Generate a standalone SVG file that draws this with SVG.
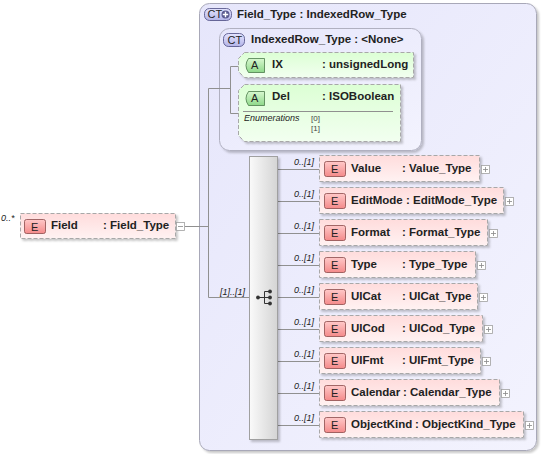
<svg xmlns="http://www.w3.org/2000/svg" width="541" height="454" viewBox="0 0 541 454">
<defs>
<linearGradient id="gCT" x1="0" y1="0" x2="1" y2="1"><stop offset="0" stop-color="#e6e6fb"/><stop offset="1" stop-color="#f3f3fe"/></linearGradient>
<linearGradient id="gEl" x1="0" y1="0" x2="0" y2="1"><stop offset="0" stop-color="#ffdcdc"/><stop offset="1" stop-color="#fff2f2"/></linearGradient>
<linearGradient id="gAt" x1="0" y1="0" x2="0" y2="1"><stop offset="0" stop-color="#dcffd4"/><stop offset="1" stop-color="#f2fff0"/></linearGradient>
<linearGradient id="gEb" x1="0" y1="0" x2="0" y2="1"><stop offset="0" stop-color="#ffc8c8"/><stop offset="1" stop-color="#f48a8a"/></linearGradient>
<linearGradient id="gAb" x1="0" y1="0" x2="0" y2="1"><stop offset="0" stop-color="#d8f8d0"/><stop offset="1" stop-color="#8ed88a"/></linearGradient>
<linearGradient id="gCb" x1="0" y1="0" x2="0" y2="1"><stop offset="0" stop-color="#e4e4ff"/><stop offset="1" stop-color="#b4b4e8"/></linearGradient>
<linearGradient id="gSeq" x1="0" y1="0" x2="1" y2="0"><stop offset="0" stop-color="#fafafa"/><stop offset="1" stop-color="#d4d4d4"/></linearGradient>
<filter id="sh" x="-10%" y="-10%" width="130%" height="140%"><feDropShadow dx="2" dy="2" stdDeviation="1.2" flood-color="#000" flood-opacity="0.22"/></filter>
</defs>
<style>
.t{font-family:"Liberation Sans",Arial,sans-serif;font-size:11.5px;font-weight:bold;fill:#222}
.b{font-family:"Liberation Sans",Arial,sans-serif;font-size:11px;fill:#222}
.m{font-family:"Liberation Sans",Arial,sans-serif;font-size:9px;font-style:italic;fill:#222}
.s{font-family:"Liberation Sans",Arial,sans-serif;font-size:8px;fill:#444}
.el{fill:url(#gEl);stroke:#a8a8a8;stroke-dasharray:4,2;filter:url(#sh)}
.at{fill:url(#gAt);stroke:#a8a8a8;stroke-dasharray:4,2;filter:url(#sh)}
.eb{fill:url(#gEb);stroke:#8a4a4a;stroke-width:0.8}
.ab{fill:url(#gAb);stroke:#4a7a4a;stroke-width:0.8}
.cb{fill:url(#gCb);stroke:#4a4a80;stroke-width:0.8}
.pl{fill:#fff;stroke:#a0a0a0;stroke-width:0.8}
.pk{stroke:#888;stroke-width:0.8;fill:none}
.ln{stroke:#909090;stroke-width:1;fill:none}
</style>

<g id="ct-field-type">
<rect x="199.5" y="3.5" width="337" height="447" rx="10" fill="url(#gCT)" stroke="#a8a8b8" filter="url(#sh)"/>
<rect x="204.5" y="8.5" width="27" height="12" rx="5" class="cb"/>
<text x="207.5" y="18" class="b" font-size="10">CT</text>
<circle cx="225.5" cy="14.5" r="4" fill="#5a5a90"/>
<path d="M222.8 14.5h5.4M225.5 11.8v5.4" stroke="#fff" stroke-width="1.4"/>
<text x="237" y="18" class="t">Field_Type : IndexedRow_Type</text>
</g>

<g id="ct-indexedrow-type">
<rect x="219.5" y="28.5" width="202" height="122" rx="10" fill="url(#gCT)" stroke="#b0b0c0" filter="url(#sh)"/>
<rect x="223.5" y="33.5" width="21" height="13" rx="5" class="cb"/>
<text x="227.5" y="44" class="b" font-size="10">CT</text>
<text x="251" y="43" class="t">IndexedRow_Type : &lt;None&gt;</text>
</g>

<g id="connectors">
<path class="ln" d="M185 226.5H208.5M208.5 88.5V297.5M208.5 88.5H230.5M230.5 66.5V113.5M230.5 66.5H243M230.5 113.5H238M208.5 297.5H249"/>
<path class="ln" d="M278 169.5H319M278 201.5H319M278 233.5H319M278 265.5H319M278 297.5H319M278 329.5H319M278 361.5H319M278 393.5H319M278 425.5H319"/>
<text x="220" y="295" class="m">[1]..[1]</text>
</g>

<g id="attr-ix">
<path class="at" d="M244.5 52.5H413.5V77.5H244.5L238.5 71.5V58.5Z"/>
<path class="ab" d="M248.5 58.5H264.5V72.5H248.5Q243.5 65.5 248.5 58.5Z"/>
<text x="251" y="69" class="b" font-size="10">A</text>
<text x="272" y="68" class="t">IX</text>
<text x="322" y="68" class="t">: unsignedLong</text>
</g>

<g id="attr-del">
<path class="at" d="M244.5 84.5H400.5V141.5H244.5L238.5 135.5V90.5Z"/>
<path class="ab" d="M248.5 91.5H264.5V105.5H248.5Q243.5 98.5 248.5 91.5Z"/>
<text x="251" y="102" class="b" font-size="10">A</text>
<text x="272" y="100" class="t">Del</text>
<text x="322" y="100" class="t">: ISOBoolean</text>
<line x1="243" y1="111.5" x2="393" y2="111.5" stroke="#909090"/>
<text x="244" y="121" class="m" font-size="8">Enumerations</text>
<text x="311" y="121" class="s">[0]</text>
<text x="311" y="131" class="s">[1]</text>
</g>

<g id="el-field">
<text x="1" y="221" class="m">0..*</text>
<rect x="20.5" y="213.5" width="155" height="25" class="el"/>
<rect x="24.5" y="219.5" width="21" height="14" rx="2" class="eb"/>
<text x="31" y="230.5" class="b" font-size="10">E</text>
<text x="51" y="229" class="t">Field</text>
<text x="103" y="229" class="t">: Field_Type</text>
<rect x="176.5" y="222.5" width="8" height="8" class="pl"/>
<path class="pk" d="M178 226.5h5"/>
</g>

<g id="sequence">
<rect x="249.5" y="156.5" width="28" height="283" fill="url(#gSeq)" stroke="#a0a0a0" filter="url(#sh)"/>
<path d="M258 297.5H264.5M264.5 291.5V303.5M264.5 291.5H270M264.5 297.5H270M264.5 303.5H270" stroke="#333" stroke-width="1" fill="none"/>
<circle cx="258" cy="297.5" r="1.9" fill="#333"/>
<circle cx="270" cy="291.5" r="1.9" fill="#333"/>
<circle cx="270" cy="297.5" r="1.9" fill="#333"/>
<circle cx="270" cy="303.5" r="1.9" fill="#333"/>
</g>

<g id="el-value">
<text x="294" y="165" class="m">0..[1]</text>
<rect x="319.5" y="155.5" width="160" height="26" class="el"/>
<rect x="324.5" y="161.5" width="21" height="15" rx="2" class="eb"/>
<text x="331" y="173" class="b" font-size="10">E</text>
<text x="351" y="172" class="t">Value</text>
<text x="402" y="172" class="t">: Value_Type</text>
<rect x="481.5" y="165.5" width="8" height="8" class="pl"/>
<path class="pk" d="M483 169.5h5M485.5 167v5"/>
</g>

<g id="el-editmode">
<text x="294" y="197" class="m">0..[1]</text>
<rect x="319.5" y="187.5" width="184" height="26" class="el"/>
<rect x="324.5" y="193.5" width="21" height="15" rx="2" class="eb"/>
<text x="331" y="205" class="b" font-size="10">E</text>
<text x="351" y="204" class="t">EditMode</text>
<text x="406" y="204" class="t">: EditMode_Type</text>
<rect x="505.5" y="197.5" width="8" height="8" class="pl"/>
<path class="pk" d="M507 201.5h5M509.5 199v5"/>
</g>

<g id="el-format">
<text x="294" y="229" class="m">0..[1]</text>
<rect x="319.5" y="219.5" width="168" height="26" class="el"/>
<rect x="324.5" y="225.5" width="21" height="15" rx="2" class="eb"/>
<text x="331" y="237" class="b" font-size="10">E</text>
<text x="351" y="236" class="t">Format</text>
<text x="402" y="236" class="t">: Format_Type</text>
<rect x="489.5" y="229.5" width="8" height="8" class="pl"/>
<path class="pk" d="M491 233.5h5M493.5 231v5"/>
</g>

<g id="el-type">
<text x="294" y="261" class="m">0..[1]</text>
<rect x="319.5" y="251.5" width="156" height="26" class="el"/>
<rect x="324.5" y="257.5" width="21" height="15" rx="2" class="eb"/>
<text x="331" y="269" class="b" font-size="10">E</text>
<text x="351" y="268" class="t">Type</text>
<text x="402" y="268" class="t">: Type_Type</text>
<rect x="477.5" y="261.5" width="8" height="8" class="pl"/>
<path class="pk" d="M479 265.5h5M481.5 263v5"/>
</g>

<g id="el-uicat">
<text x="294" y="293" class="m">0..[1]</text>
<rect x="319.5" y="283.5" width="158" height="26" class="el"/>
<rect x="324.5" y="289.5" width="21" height="15" rx="2" class="eb"/>
<text x="331" y="301" class="b" font-size="10">E</text>
<text x="351" y="300" class="t">UICat</text>
<text x="402" y="300" class="t">: UICat_Type</text>
<rect x="479.5" y="293.5" width="8" height="8" class="pl"/>
<path class="pk" d="M481 297.5h5M483.5 295v5"/>
</g>

<g id="el-uicod">
<text x="294" y="325" class="m">0..[1]</text>
<rect x="319.5" y="315.5" width="163" height="26" class="el"/>
<rect x="324.5" y="321.5" width="21" height="15" rx="2" class="eb"/>
<text x="331" y="333" class="b" font-size="10">E</text>
<text x="351" y="332" class="t">UICod</text>
<text x="402" y="332" class="t">: UICod_Type</text>
<rect x="484.5" y="325.5" width="8" height="8" class="pl"/>
<path class="pk" d="M486 329.5h5M488.5 327v5"/>
</g>

<g id="el-uifmt">
<text x="294" y="357" class="m">0..[1]</text>
<rect x="319.5" y="347.5" width="161" height="26" class="el"/>
<rect x="324.5" y="353.5" width="21" height="15" rx="2" class="eb"/>
<text x="331" y="365" class="b" font-size="10">E</text>
<text x="351" y="364" class="t">UIFmt</text>
<text x="402" y="364" class="t">: UIFmt_Type</text>
<rect x="482.5" y="357.5" width="8" height="8" class="pl"/>
<path class="pk" d="M484 361.5h5M486.5 359v5"/>
</g>

<g id="el-calendar">
<text x="294" y="389" class="m">0..[1]</text>
<rect x="319.5" y="379.5" width="180" height="26" class="el"/>
<rect x="324.5" y="385.5" width="21" height="15" rx="2" class="eb"/>
<text x="331" y="397" class="b" font-size="10">E</text>
<text x="351" y="396" class="t">Calendar</text>
<text x="403" y="396" class="t">: Calendar_Type</text>
<rect x="501.5" y="389.5" width="8" height="8" class="pl"/>
<path class="pk" d="M503 393.5h5M505.5 391v5"/>
</g>

<g id="el-objectkind">
<text x="294" y="421" class="m">0..[1]</text>
<rect x="319.5" y="411.5" width="204" height="26" class="el"/>
<rect x="324.5" y="417.5" width="21" height="15" rx="2" class="eb"/>
<text x="331" y="429" class="b" font-size="10">E</text>
<text x="351" y="428" class="t">ObjectKind</text>
<text x="415" y="428" class="t">: ObjectKind_Type</text>
<rect x="525.5" y="421.5" width="8" height="8" class="pl"/>
<path class="pk" d="M527 425.5h5M529.5 423v5"/>
</g>
</svg>
